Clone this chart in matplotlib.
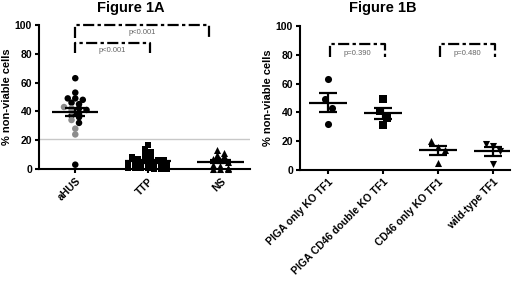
import numpy as np
import matplotlib
matplotlib.use("Agg")
import matplotlib.pyplot as plt

plt.rcParams['font.family'] = ['Liberation Sans', 'DejaVu Sans']

# Figure 1A
groups_a = ["aHUS", "TTP", "NS"]
ahus_black = [63, 53, 49, 49, 48, 46, 45, 42, 41, 38, 37, 36, 32, 3]
ahus_grey = [43, 42, 40, 34, 28, 24]
ttp = [17, 14, 12, 11, 9, 8, 7, 7, 7, 6, 6, 4, 4, 4, 3, 3, 3, 3, 1, 1, 1, 1, 0, 0, 0]
ns = [13, 11, 10, 9, 7, 6, 5, 3, 2, 1, 0, 0, 0]
cutoff = 21

# Figure 1B
groups_b = ["PIGA only KO TF1", "PIGA CD46 double KO TF1", "CD46 only KO TF1", "wild-type TF1"]
piga = [63, 49, 43, 32]
double = [49, 41, 36, 31]
cd46 = [20, 16, 14, 5]
wt = [18, 17, 13, 4]

pvals_a = ["p<0.001", "p<0.001"]
pvals_b = ["p=0.390", "p=0.480"]


def swarm(ax, x0, vals, diam_px=6.0, row_px=4.0):
    # rows of points with similar values, spread side by side around the category
    tr = ax.transData
    inv = tr.inverted()
    vals = list(vals)
    order = np.argsort(vals, kind='stable')[::-1]
    xs = np.zeros(len(vals))
    rows = []
    for i in order:
        py = tr.transform((x0, vals[i]))[1]
        if rows and rows[-1][0] - py < row_px:
            rows[-1][1].append(i)
        else:
            rows.append([py, [i]])
    px0 = tr.transform((x0, 0))[0]
    for py, idx in rows:
        n = len(idx)
        for k, i in enumerate(idx):
            off = (k - (n - 1) / 2) * diam_px
            xs[i] = inv.transform((px0 + off, py))[0]
    return xs


def mean_sem(ax, x, vals, w_mean, w_sem):
    v = np.array(vals, float)
    m = v.mean()
    s = v.std(ddof=1) / np.sqrt(len(v))
    kw = dict(color='black', lw=1.6, zorder=4, solid_capstyle='butt')
    ax.plot([x - w_mean, x + w_mean], [m, m], **kw)
    ax.plot([x, x], [m - s, m + s], **kw)
    ax.plot([x - w_sem, x + w_sem], [m + s, m + s], **kw)
    ax.plot([x - w_sem, x + w_sem], [m - s, m - s], **kw)


def style(ax):
    ax.set_ylim(0, 100)
    ax.set_yticks([0, 20, 40, 60, 80, 100])
    ax.spines['top'].set_visible(False)
    ax.spines['right'].set_visible(False)
    ax.spines['left'].set_linewidth(1.5)
    ax.spines['bottom'].set_linewidth(1.5)
    ax.tick_params(width=1.5, length=3, labelsize=7.5, pad=2)
    for t in ax.get_yticklabels():
        t.set_fontweight('bold')
    ax.set_ylabel("% non-viable cells", fontsize=8, fontweight='bold', labelpad=2)


def bracket(ax, x1, x2, ytop, ybot, label, ytext):
    ax.plot([x1, x1, x2, x2], [ybot, ytop, ytop, ybot], color='black', lw=1.6,
            ls=(0, (5, 1.5, 1.5, 1.5)), clip_on=False)
    ax.text((x1 + x2) / 2, ytext, label, fontsize=5.5, color='#666666', ha='center', va='center')


fig = plt.figure(figsize=(5.2, 2.82), dpi=100)

ax1 = fig.add_axes([0.075, 0.4007, 0.406, 0.511])
ax1.set_xlim(-0.5, 2.41)
style(ax1)
ax1.axhline(cutoff, color='#c8c8c8', lw=1, zorder=1)

all_ahus = ahus_black + ahus_grey
cols = ['black'] * len(ahus_black) + ['#8c8c8c'] * len(ahus_grey)
xs = swarm(ax1, 0, all_ahus, diam_px=7.5)
ax1.scatter(xs, all_ahus, s=22, c=cols, marker='o', zorder=3, clip_on=False, linewidths=0)
xs = swarm(ax1, 1, ttp, diam_px=6.5)
ax1.scatter(xs, ttp, s=24, c='black', marker='s', zorder=3, clip_on=False, linewidths=0)
xs = swarm(ax1, 2, ns, diam_px=7.5)
ax1.scatter(xs, ns, s=26, c='black', marker='^', zorder=3, clip_on=False, linewidths=0)
mean_sem(ax1, 0, all_ahus, 0.32, 0.14)
mean_sem(ax1, 1, ttp, 0.32, 0.14)
mean_sem(ax1, 2, ns, 0.32, 0.14)

ax1.set_xticks(range(len(groups_a)))
ax1.set_xticklabels(groups_a, rotation=45, ha='right', rotation_mode='anchor',
                    fontsize=7.5, fontweight='bold')
bracket(ax1, 0, 1.85, 100, 91, pvals_a[0], 95)
bracket(ax1, 0, 1.03, 87.5, 80.5, pvals_a[1], 82)

ax2 = fig.add_axes([0.577, 0.397, 0.404, 0.511])
ax2.set_xlim(-0.51, 3.31)
style(ax2)
markers_b = ['o', 's', '^', 'v']
for i, vals in enumerate([piga, double, cd46, wt]):
    xs = swarm(ax2, i, vals, diam_px=7, row_px=9)
    ax2.scatter(xs, vals, s=26, c='black', marker=markers_b[i], zorder=3,
                clip_on=False, linewidths=0)
    mean_sem(ax2, i, vals, 0.34, 0.17)

ax2.set_xticks(range(len(groups_b)))
ax2.set_xticklabels(groups_b, rotation=45, ha='right', rotation_mode='anchor',
                    fontsize=7.5, fontweight='bold')
bracket(ax2, 0.03, 1.03, 87.5, 78.5, pvals_b[0], 81)
bracket(ax2, 2.03, 3.03, 87.5, 78.5, pvals_b[1], 81)

fig.text(131 / 520, 1 - 8 / 282, "Figure 1A", fontsize=10.5, fontweight='bold', ha='center', va='center')
fig.text(383 / 520, 1 - 8 / 282, "Figure 1B", fontsize=10.5, fontweight='bold', ha='center', va='center')

fig.savefig("out.png", dpi=100)
